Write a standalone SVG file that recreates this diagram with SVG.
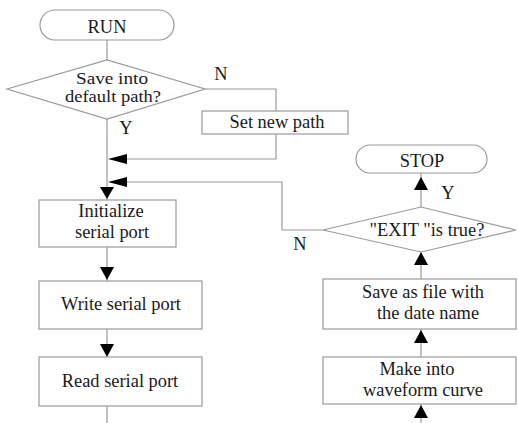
<svg xmlns="http://www.w3.org/2000/svg" width="518" height="423" viewBox="0 0 518 423">
<style>
.s{fill:#fff;stroke:#9a9a9a;stroke-width:1.2}
.l{fill:none;stroke:#9a9a9a;stroke-width:1.2}
.a{fill:#000}
text{font-family:"Liberation Serif","Times New Roman",serif;font-size:18.4px;fill:#1a1a1a;text-anchor:middle}
.t{font-size:16px}
</style>
<rect width="518" height="423" fill="#fff"/>
<g id="connectors">
<path class="l" d="M107 40V60M107 119V423"/>
<path class="l" d="M205 89H276V111M276 134V159H127"/>
<path class="l" d="M323 230H282V182H127"/>
<path class="l" d="M421 423V404M421 357V329M421 279V252M421 207V173"/>
<polygon class="a" points="108,159 127,154 127,164"/>
<polygon class="a" points="108,182 127,177 127,187"/>
<polygon class="a" points="107,199 100,187 114,187"/>
<polygon class="a" points="107,280 100,267 114,267"/>
<polygon class="a" points="107,357 100,344 114,344"/>
<polygon class="a" points="421,177 414,190 428,190"/>
<polygon class="a" points="421,252 414,265 428,265"/>
<polygon class="a" points="421,330 414,343 428,343"/>
<polygon class="a" points="421,405 414,418 428,418"/>
<text x="221" y="80">N</text>
<text x="126" y="134">Y</text>
<text x="448" y="199">Y</text>
<text x="300" y="250">N</text>
</g>
<g id="run"><rect class="s" x="40" y="10" width="134" height="30" rx="15"/><text x="107" y="33">RUN</text></g>
<g id="default"><polygon class="s" points="7,89 107,60 205,89 107,119"/><text class="t" x="112" y="84" textLength="72" lengthAdjust="spacingAndGlyphs">Save into</text><text class="t" x="113" y="102" textLength="96" lengthAdjust="spacingAndGlyphs">default path?</text></g>
<g id="setpath"><rect class="s" x="202" y="111" width="146" height="23"/><text x="277" y="128">Set new path</text></g>
<g id="init"><rect class="s" x="39" y="200" width="137" height="47"/><text x="111" y="217">Initialize</text><text x="112" y="238">serial port</text></g>
<g id="write"><rect class="s" x="39" y="281" width="163" height="48"/><text x="121" y="310">Write serial port</text></g>
<g id="read"><rect class="s" x="39" y="357" width="163" height="49"/><text x="120" y="387">Read serial port</text></g>
<g id="stop"><rect class="s" x="356" y="145" width="131" height="28" rx="14"/><text x="422" y="167">STOP</text></g>
<g id="exit"><polygon class="s" points="323,230 421,207 516,230 421,252"/><text x="427" y="236">"EXIT "is true?</text></g>
<g id="save"><rect class="s" x="323" y="279" width="193" height="50"/><text x="423" y="298">Save as file with</text><text x="428" y="319">the date name</text></g>
<g id="make"><rect class="s" x="323" y="357" width="193" height="47"/><text x="417" y="375">Make into</text><text x="423" y="396">waveform curve</text></g>
</svg>
